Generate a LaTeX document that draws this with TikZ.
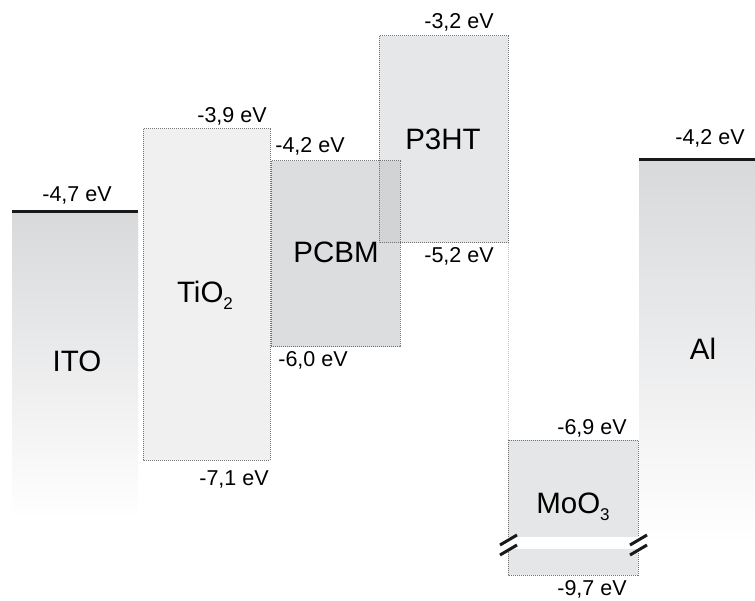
\documentclass[tikz,border=0pt]{standalone}
\usepackage{fontspec}
\setmainfont{Liberation Sans}
\usepackage{tikz}
\usetikzlibrary{calc,positioning}

\definecolor{tiofill}{HTML}{F0F0F0}
\definecolor{pcbmfill}{HTML}{DCDDDF}
\definecolor{p3htfill}{HTML}{E6E7E8}
\definecolor{overlapfill}{HTML}{D2D3D5}
\definecolor{moofill}{HTML}{E5E6E7}
\definecolor{metaltop}{HTML}{D8D9DB}

\newcommand\lowsub[1]{\raisebox{-7pt}{\fontsize{17}{17}\selectfont #1}}

\tikzset{
  bandedge/.style={draw=black!55, line width=1pt, dash pattern=on 1pt off 1pt},
  guide/.style={draw=black!22, line width=1pt, dash pattern=on 1pt off 1pt},
  fermi/.style={line width=3pt, black!90},
  breakmark/.style={line width=3pt, black!90},
  evlabel/.style={anchor=base, inner sep=0pt, font=\fontsize{21.5}{24}\selectfont},
  matlabel/.style={anchor=base, inner sep=0pt, font=\fontsize{29.5}{32}\selectfont}
}

\begin{document}
\begin{tikzpicture}[x=1pt, y=-1pt]
  \useasboundingbox (0,0) rectangle (755,601);
  % electrodes (gradient)
  \coordinate (ito-a) at (12,212);
  \coordinate (ito-b) at (138,520);
  \coordinate (al-a) at (639,160);
  \coordinate (al-b) at (755,545);
  \shade[top color=metaltop, bottom color=white] (ito-a) rectangle (ito-b);
  \shade[top color=metaltop, bottom color=white] (al-a) rectangle (al-b);
  \draw[fermi] (ito-a) -- (ito-a -| ito-b);
  \draw[fermi] (al-a) -- (al-a -| al-b);
  % band boxes
  \foreach \nm/\xa/\ya/\xb/\yb/\col in {
    tio/143/129/270/460/tiofill,
    pcbm/271/161/400/347/pcbmfill,
    p3ht/379/36/508/243/p3htfill,
    moo/508/440/638/575/moofill}
  {
    \coordinate (\nm-a) at (\xa,\ya);
    \coordinate (\nm-b) at (\xb,\yb);
    \fill[\col] (\nm-a) rectangle (\nm-b);
  }
  % PCBM / P3HT overlap
  \fill[overlapfill] (p3ht-a |- pcbm-a) rectangle (pcbm-b |- p3ht-b);
  \draw[guide] (p3ht-b) -- (moo-a);
  \foreach \nm in {tio,pcbm,p3ht,moo}{
    \draw[bandedge] (\nm-a) rectangle (\nm-b);
  }
  % axis break in MoO3
  \fill[white] (502,537) rectangle (644,549);
  \foreach \x in {500,630}{
    \draw[breakmark] (\x,545) -- ++(17,-10);
    \draw[breakmark] (\x,555) -- ++(17,-10);
  }
  % energy levels
  \node[evlabel] (ito-wf) at (77,202) {-4,7 eV};
  \node[evlabel] (tio-cb) at (232,123) {-3,9 eV};
  \node[evlabel] (tio-vb) at (234,485) {-7,1 eV};
  \node[evlabel] (pcbm-lumo) at (310,153) {-4,2 eV};
  \node[evlabel] (pcbm-homo) at (313,367) {-6,0 eV};
  \node[evlabel] (p3ht-lumo) at (459,29) {-3,2 eV};
  \node[evlabel] (p3ht-homo) at (459,263) {-5,2 eV};
  \node[evlabel] (moo-cb) at (592,435) {-6,9 eV};
  \node[evlabel] (moo-vb) at (592,595) {-9,7 eV};
  \node[evlabel] (al-wf) at (710,145) {-4,2 eV};
  % materials
  \node[matlabel] (ito) at (77,372) {ITO};
  \node[matlabel] (tio) at (205,303) {TiO\lowsub{2}};
  \node[matlabel] (pcbm) at (336,263) {PCBM};
  \node[matlabel] (p3ht) at (443,150) {P3HT};
  \node[matlabel] (moo) at (573,513) {MoO\lowsub{3}};
  \node[matlabel] (al) at (703,360) {Al};
\end{tikzpicture}
\end{document}
